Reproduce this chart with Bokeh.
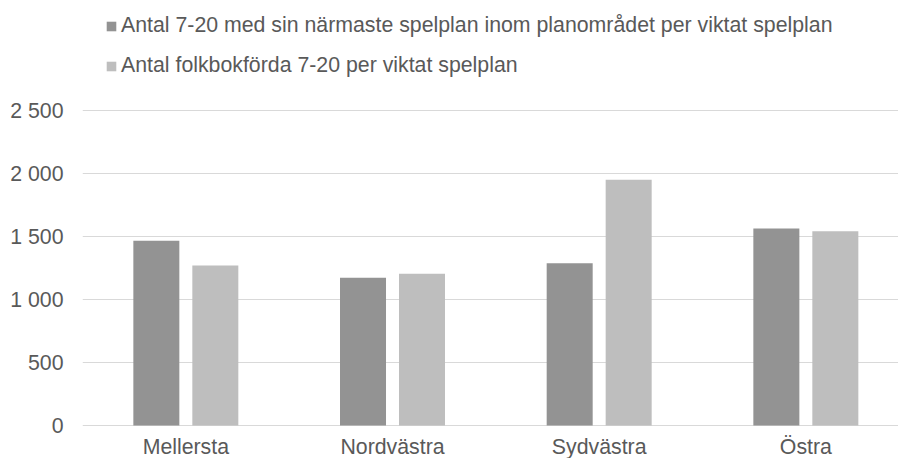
from bokeh.plotting import figure
from bokeh.models import ColumnDataSource, Range1d, FixedTicker, Legend, LegendItem
from bokeh.transform import dodge
from bokeh.core.properties import value
from bokeh.embed import file_html
from bokeh.resources import INLINE

categories = ["Mellersta", "Nordvästra", "Sydvästra", "Östra"]
series_names = [
    "Antal 7-20 med sin närmaste spelplan inom planområdet per viktat spelplan",
    "Antal folkbokförda 7-20 per viktat spelplan",
]
närmaste = [1466, 1172, 1288, 1563]
folkbokförda = [1270, 1204, 1950, 1542]
y_ticks = [0, 500, 1000, 1500, 2000, 2500]
y_tick_labels = ["0", "500", "1 000", "1 500", "2 000", "2 500"]

FONT = "Liberation Sans"
FS = "21.3px"
TEXT = "#595959"

# layout (pixels)
W, H = 898, 458
LEFT = 82
PX_PER_UNIT = 0.126          # 315 px for 2 500
TOP_GAP = 110                # px from figure top to the 2 500 gridline
BOTTOM_GAP = 33              # px from the 0 gridline to figure bottom
LABEL_DROP = 21              # px from the 0 gridline to category label middle
CAT_PX = 206.67              # px per category

xpos = [i + 0.5 for i in range(len(categories))]
src = ColumnDataSource(dict(x=xpos, a=närmaste, b=folkbokförda))

x_end = (W - LEFT) / CAT_PX
y_end = y_ticks[-1] + TOP_GAP / PX_PER_UNIT
y_start = -BOTTOM_GAP / PX_PER_UNIT

p = figure(width=W, height=H, output_backend="svg", toolbar_location=None,
           x_range=Range1d(0, x_end), y_range=Range1d(y_start, y_end),
           min_border_left=LEFT, min_border_right=0, min_border_top=0,
           min_border_bottom=0)
p.outline_line_color = None
p.background_fill_color = "white"
p.border_fill_color = "white"

r1 = p.vbar(x=dodge("x", -0.1427, range=p.x_range), top="a", width=0.2226,
            bottom=0, source=src, fill_color="#939393", line_color=None)
r2 = p.vbar(x=dodge("x", 0.1427, range=p.x_range), top="b", width=0.2226,
            bottom=0, source=src, fill_color="#bebebe", line_color=None)

# category labels under the bars
p.text(x=xpos, y=[-LABEL_DROP / PX_PER_UNIT] * len(xpos), text=categories,
       text_font=value(FONT), text_font_size=FS, text_color=TEXT,
       text_align="center", text_baseline="middle")

p.xgrid.visible = False
p.ygrid.grid_line_color = "#d9d9d9"
p.ygrid.grid_line_width = 1
p.ygrid.ticker = FixedTicker(ticks=y_ticks)

p.xaxis.visible = False
p.yaxis.ticker = FixedTicker(ticks=y_ticks)
p.yaxis.major_label_overrides = {t: l for t, l in zip(y_ticks, y_tick_labels)}
p.yaxis.axis_line_color = None
p.yaxis.major_tick_line_color = None
p.yaxis.minor_tick_line_color = None
p.yaxis.major_label_standoff = 13
p.yaxis.major_label_text_font = FONT
p.yaxis.major_label_text_font_size = FS
p.yaxis.major_label_text_color = TEXT

legend = Legend(items=[LegendItem(label=series_names[0], renderers=[r1]),
                       LegendItem(label=series_names[1], renderers=[r2])],
                location=(23, 380), orientation="vertical",
                glyph_width=12, glyph_height=12, label_standoff=4,
                label_height=25, spacing=15, padding=0, margin=0,
                border_line_color=None, background_fill_alpha=0,
                label_text_font=FONT, label_text_font_size=FS,
                label_text_color=TEXT)
p.add_layout(legend, "center")

open("out.html", "w").write(file_html(p, INLINE))
